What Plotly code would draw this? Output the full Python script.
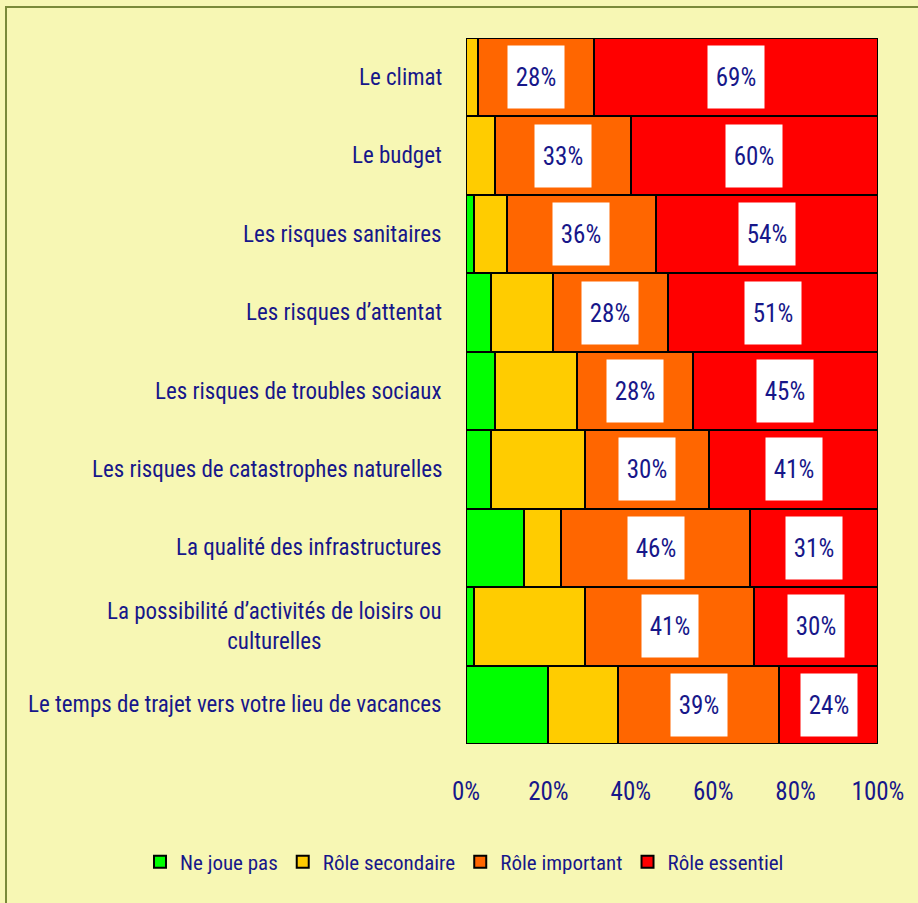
import plotly.graph_objects as go

# catégories, de haut en bas
categories = [
    "Le climat",
    "Le budget",
    "Les risques sanitaires",
    "Les risques d’attentat",
    "Les risques de troubles sociaux",
    "Les risques de catastrophes naturelles",
    "La qualité des infrastructures",
    "La possibilité d’activités de loisirs ou<br>culturelles",
    "Le temps de trajet vers votre lieu de vacances",
]

ne_joue_pas = [0, 0, 2, 6, 7, 6, 14, 2, 20]
role_secondaire = [3, 7, 8, 15, 20, 23, 9, 27, 17]
role_important = [28, 33, 36, 28, 28, 30, 46, 41, 39]
role_essentiel = [69, 60, 54, 51, 45, 41, 31, 30, 24]

series_names = ["Ne joue pas", "Rôle secondaire", "Rôle important", "Rôle essentiel"]
series_values = [ne_joue_pas, role_secondaire, role_important, role_essentiel]
colors = ["#00FF00", "#FFCC00", "#FF6600", "#FF0000"]

tick_vals = [0, 20, 40, 60, 80, 100]
tick_text = ["0%", "20%", "40%", "60%", "80%", "100%"]

FONT = ("Roboto Condensed, Liberation Sans Narrow, Noto Sans Condensed, "
        "DejaVu Sans Condensed, sans-serif")
WEIGHT = 400
NAVY = "#17178A"
BG = "#F7F7B4"


def font(size):
    return dict(family=FONT, size=size, color=NAVY, weight=WEIGHT)


fig = go.Figure()
for name, vals, col in zip(series_names, series_values, colors):
    fig.add_trace(
        go.Bar(
            y=categories,
            x=vals,
            name=name,
            orientation="h",
            marker=dict(color=col, line=dict(color="black", width=2)),
            hoverinfo="skip",
        )
    )

# étiquettes blanches sur les segments "important" et "essentiel"
for i, cat in enumerate(categories):
    start = ne_joue_pas[i] + role_secondaire[i]
    for vals in (role_important, role_essentiel):
        v = vals[i]
        fig.add_annotation(
            x=start + v / 2,
            y=cat,
            text=f"{v}%",
            showarrow=False,
            bgcolor="white",
            width=54,
            height=60,
            font=font(25),
        )
        start += v

# libellés des catégories (centrés sur plusieurs lignes)
for cat in categories:
    fig.add_annotation(
        x=0,
        xref="paper",
        y=cat,
        text=cat,
        showarrow=False,
        xanchor="right",
        xshift=-22,
        align="center",
        font=font(23),
    )

W, H = 918, 903
L, R, T, B = 466, 40, 38, 159
pw, ph = W - L - R, H - T - B

# cadre extérieur
fig.add_shape(
    type="rect",
    xref="paper",
    yref="paper",
    x0=(6 - L) / pw,
    x1=(W + 20 - L) / pw,
    y0=-(B + 20) / ph,
    y1=(ph + T - 7) / ph,
    line=dict(color="#7A8A3A", width=2),
    layer="below",
)

fig.update_layout(
    width=W,
    height=H,
    barmode="stack",
    bargap=0,
    margin=dict(l=L, r=R, t=T, b=B, autoexpand=False),
    paper_bgcolor=BG,
    plot_bgcolor=BG,
    font=font(20),
    showlegend=True,
    legend=dict(
        orientation="h",
        x=(140 - L) / pw,
        xanchor="left",
        y=-118 / ph,
        yanchor="middle",
        font=font(21),
        bgcolor="rgba(0,0,0,0)",
        itemwidth=30,
        traceorder="normal",
    ),
    xaxis=dict(
        range=[0, 100],
        tickvals=tick_vals,
        ticktext=tick_text,
        showgrid=False,
        zeroline=False,
        ticks="",
        ticklabelstandoff=30,
        automargin=False,
        tickfont=font(25),
        fixedrange=True,
    ),
    yaxis=dict(
        autorange="reversed",
        showticklabels=False,
        showgrid=False,
        ticks="",
        automargin=False,
        fixedrange=True,
    ),
)

# pas de marge blanche autour de la figure dans la page
fig.write_html(
    "out.html",
    config={"displayModeBar": False},
    post_script="document.body.style.margin='0';document.body.style.background='%s';" % BG,
)
